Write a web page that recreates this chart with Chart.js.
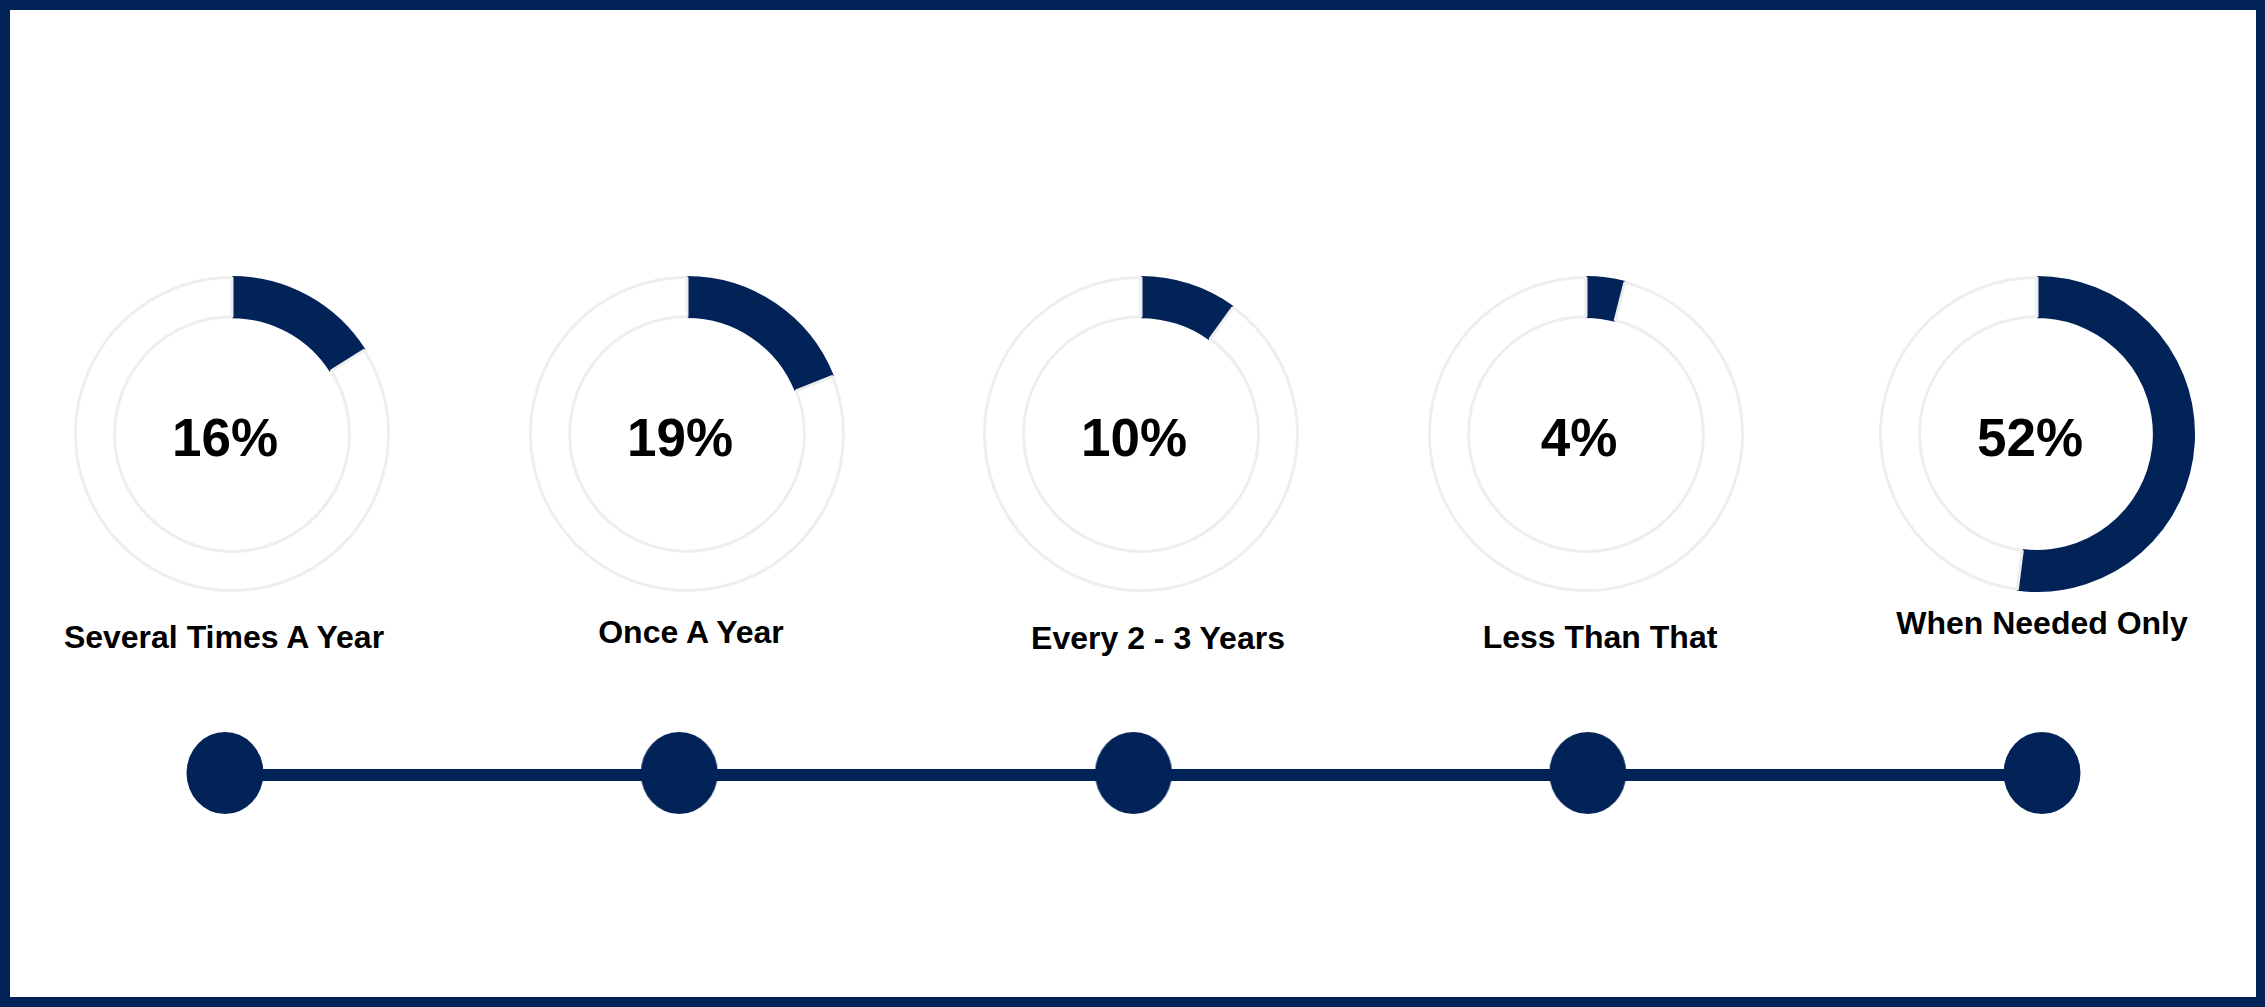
<!DOCTYPE html>
<html>
<head>
<meta charset="utf-8">
<script src="https://cdn.jsdelivr.net/npm/chart.js@4.4.1/dist/chart.umd.min.js"></script>
<style>
  html, body { margin: 0; padding: 0; background: #fff; }
  body { position: relative; width: 2265px; height: 1007px; overflow: hidden; }
  #frame {
    position: absolute; left: 0; top: 0; width: 2265px; height: 1007px;
    box-sizing: border-box; border: 10px solid #022358; border-right-width: 9px;
  }
  canvas { position: absolute; }
  .label {
    position: absolute; transform: translateX(-50%);
    font: bold 32px "Liberation Sans", Arial, sans-serif; line-height: 32px;
    color: #000; white-space: nowrap;
  }
</style>
</head>
<body>
<div id="frame"></div>
<canvas id="ring0" width="316" height="316"></canvas>
<canvas id="ring1" width="316" height="316"></canvas>
<canvas id="ring2" width="316" height="316"></canvas>
<canvas id="ring3" width="316" height="316"></canvas>
<canvas id="ring4" width="316" height="316"></canvas>
<canvas id="timeline" width="2265" height="120"></canvas>
<script>
// answers and their share in percent
const categories = ['Several Times A Year', 'Once A Year', 'Every 2 - 3 Years', 'Less Than That', 'When Needed Only'];
const shares = [16, 19, 10, 4, 52];
// timeline sits on a flat baseline
const track = [0, 0, 0, 0, 0];

const NAVY = '#022358';
const GREY = '#eeeeef';

// where each ring and its caption go
const ringX = [232, 687, 1141, 1586, 2037];
const ringY = 434;
const ringSize = 316;
const labelX = [224, 691, 1158, 1600, 2042];
const labelBaseline = [648, 643, 649, 648, 634];

// percentage in the middle of each ring, taken from the first data value
const centerText = {
  id: 'centerText',
  afterDraw(chart) {
    const ctx = chart.ctx;
    const arc = chart.getDatasetMeta(0).data[0];
    const v = chart.data.datasets[0].data[0];
    ctx.save();
    ctx.font = 'bold 53px "Liberation Sans", Arial, sans-serif';
    ctx.fillStyle = '#000';
    ctx.textAlign = 'center';
    ctx.textBaseline = 'alphabetic';
    ctx.fillText(v + '%', arc.x - 7, arc.y + 22);
    ctx.restore();
  }
};

categories.forEach((name, i) => {
  const cv = document.getElementById('ring' + i);
  cv.style.left = (ringX[i] - ringSize / 2) + 'px';
  cv.style.top = (ringY - ringSize / 2) + 'px';

  new Chart(cv, {
    type: 'doughnut',
    data: {
      labels: [name, ''],
      datasets: [{
        data: [shares[i], 100 - shares[i]],
        backgroundColor: [NAVY, '#ffffff'],
        borderColor: [NAVY, GREY],
        borderWidth: 3
      }]
    },
    options: {
      responsive: false,
      animation: false,
      events: [],
      cutout: '75%',
      plugins: { legend: { display: false }, tooltip: { enabled: false } }
    },
    plugins: [centerText]
  });

  const lab = document.createElement('div');
  lab.className = 'label';
  lab.textContent = name;
  lab.style.left = labelX[i] + 'px';
  lab.style.top = (labelBaseline[i] - 27) + 'px';
  document.body.appendChild(lab);
});

// timeline stop, a touch taller than wide and sitting slightly above the line
const dot = document.createElement('canvas');
dot.width = 80;
dot.height = 90;
const dctx = dot.getContext('2d');
dctx.fillStyle = NAVY;
dctx.beginPath();
dctx.ellipse(40, 43, 38.5, 41, 0, 0, Math.PI * 2);
dctx.fill();

const tl = document.getElementById('timeline');
tl.style.left = '0px';
tl.style.top = '715px';

new Chart(tl, {
  type: 'line',
  data: {
    labels: categories,
    datasets: [{
      data: track,
      borderColor: NAVY,
      borderWidth: 12,
      pointStyle: dot,
      pointRadius: 40,
      clip: false
    }]
  },
  options: {
    responsive: false,
    animation: false,
    events: [],
    layout: { padding: { left: 225, right: 223, top: 0, bottom: 0 } },
    scales: {
      x: { display: false },
      y: { display: false, min: -1, max: 1 }
    },
    plugins: { legend: { display: false }, tooltip: { enabled: false } }
  }
});
</script>
</body>
</html>
